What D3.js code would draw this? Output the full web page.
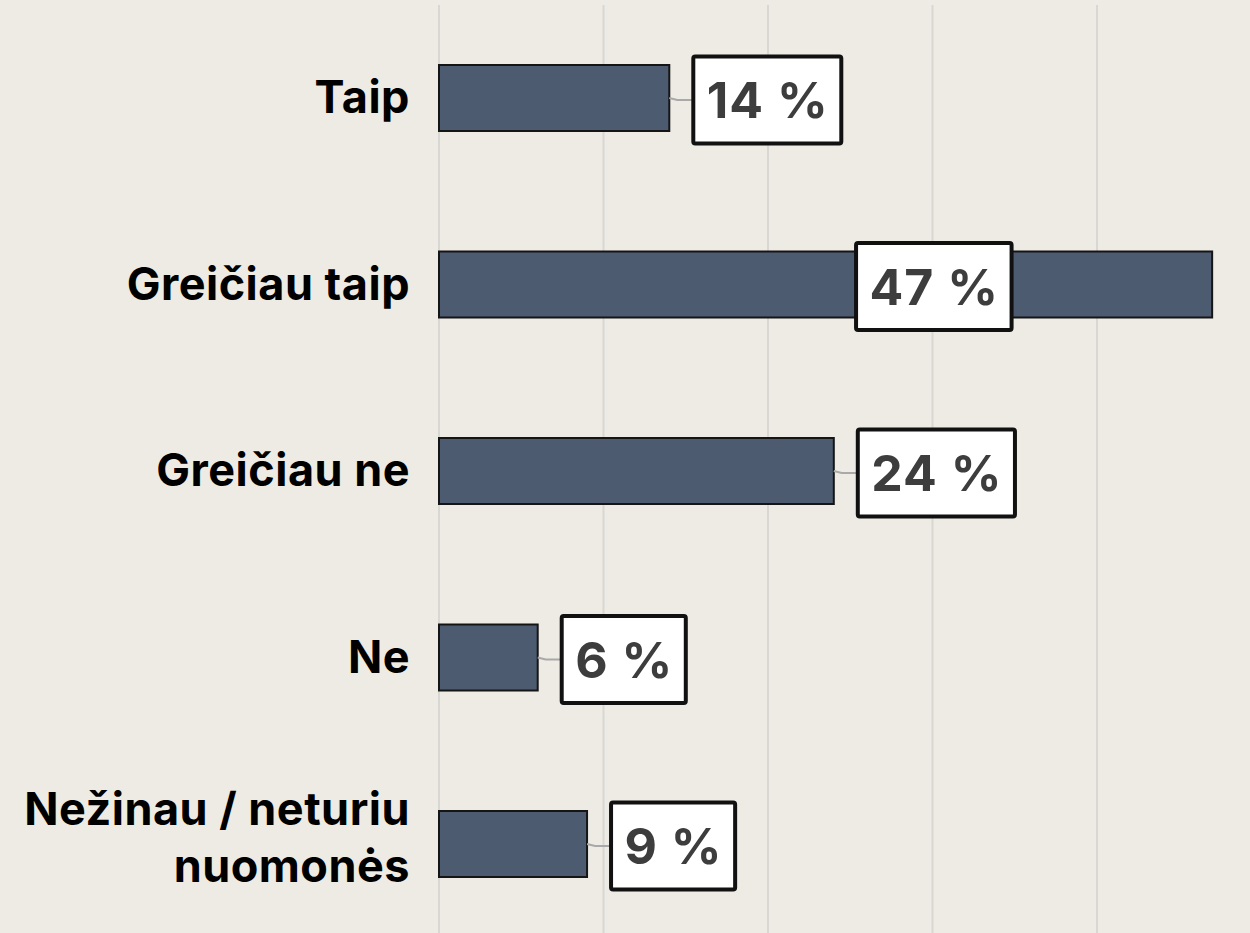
<!DOCTYPE html>
<html>
<head>
<meta charset="utf-8">
<script src="https://cdn.jsdelivr.net/npm/d3@7"></script>
<style>
  html, body { margin: 0; padding: 0; background: #edebe4; }
  svg { display: block; }
  .cat { font-family: Inter, "Noto Sans", sans-serif; font-weight: 700; fill: #000; letter-spacing: 0.5px; }
  .val { font-family: Inter, "Noto Sans", sans-serif; font-weight: 700; fill: #3d3d3d; letter-spacing: 1px; }
</style>
</head>
<body>
<div id="chart"></div>
<script>
// answer categories (top to bottom) and share in %
const categories = ['Taip', 'Greičiau taip', 'Greičiau ne', 'Ne', 'Nežinau / neturiu nuomonės'];
const values = [14, 47, 24, 6, 9];
const gridTicks = [0, 10, 20, 30, 40];

const width = 1250, height = 933;

const svg = d3.select('#chart').append('svg')
    .attr('width', width)
    .attr('height', height);

svg.append('rect')
    .attr('width', width)
    .attr('height', height)
    .attr('fill', '#edebe4');

const x = d3.scaleLinear().domain([0, 10]).range([439, 603.5]);
const y = d3.scalePoint().domain(categories).range([98, 844]);
const barH = 66;

// vertical gridlines
svg.append('g')
    .selectAll('line')
    .data(gridTicks)
    .join('line')
    .attr('x1', d => x(d)).attr('x2', d => x(d))
    .attr('y1', 5).attr('y2', height)
    .attr('stroke', '#d9d7d4')
    .attr('stroke-width', 2);

const data = categories.map((c, i) => ({ cat: c, value: values[i] }));

// bars
svg.append('g')
    .selectAll('rect')
    .data(data)
    .join('rect')
    .attr('x', x(0))
    .attr('y', d => y(d.cat) - barH / 2)
    .attr('width', d => x(d.value) - x(0))
    .attr('height', barH)
    .attr('fill', '#4d5b70')
    .attr('stroke', '#151515')
    .attr('stroke-width', 2);

// category labels, wrap long ones
const catG = svg.append('g');
data.forEach(d => {
    const t = catG.append('text')
        .attr('class', 'cat')
        .attr('text-anchor', 'end')
        .attr('font-size', 45);
    const lines = d.cat.length > 16 ? ['Nežinau / neturiu', 'nuomonės'] : [d.cat];
    const lh = 57;
    const off = lines.length > 1 ? 9 : 15;
    lines.forEach((ln, k) => {
        t.append('tspan')
            .attr('x', 410)
            .attr('y', y(d.cat) + off + (k - (lines.length - 1) / 2) * lh)
            .text(ln);
    });
});

// value labels in boxes
const labG = svg.append('g');
data.forEach(d => {
    const g = labG.append('g');
    const txt = g.append('text')
        .attr('class', 'val')
        .attr('font-size', 50)
        .text(d.value + ' %');
    const tw = txt.node().getComputedTextLength();
    const bw = tw + 26, bh = 87;
    const end = x(d.value);
    let bx = end + 24;
    if (bx + bw > width - 10) bx = x(d.value * 0.64) - bw / 2;
    const cy = y(d.cat);
    if (bx > end) {
        g.insert('path', 'text')
            .attr('d', `M${end},${cy}L${end + 8},${cy + 2}L${bx},${cy + 2}`)
            .attr('fill', 'none')
            .attr('stroke', '#a9a9a9')
            .attr('stroke-width', 2);
    }
    g.insert('rect', 'text')
        .attr('x', bx)
        .attr('y', cy - bh / 2 + 2)
        .attr('width', bw)
        .attr('height', bh)
        .attr('rx', 2)
        .attr('fill', '#fff')
        .attr('stroke', '#111')
        .attr('stroke-width', 4);
    txt.attr('x', bx + bw / 2 + 0.5)
        .attr('y', cy + 20)
        .attr('text-anchor', 'middle');
});
</script>
</body>
</html>
